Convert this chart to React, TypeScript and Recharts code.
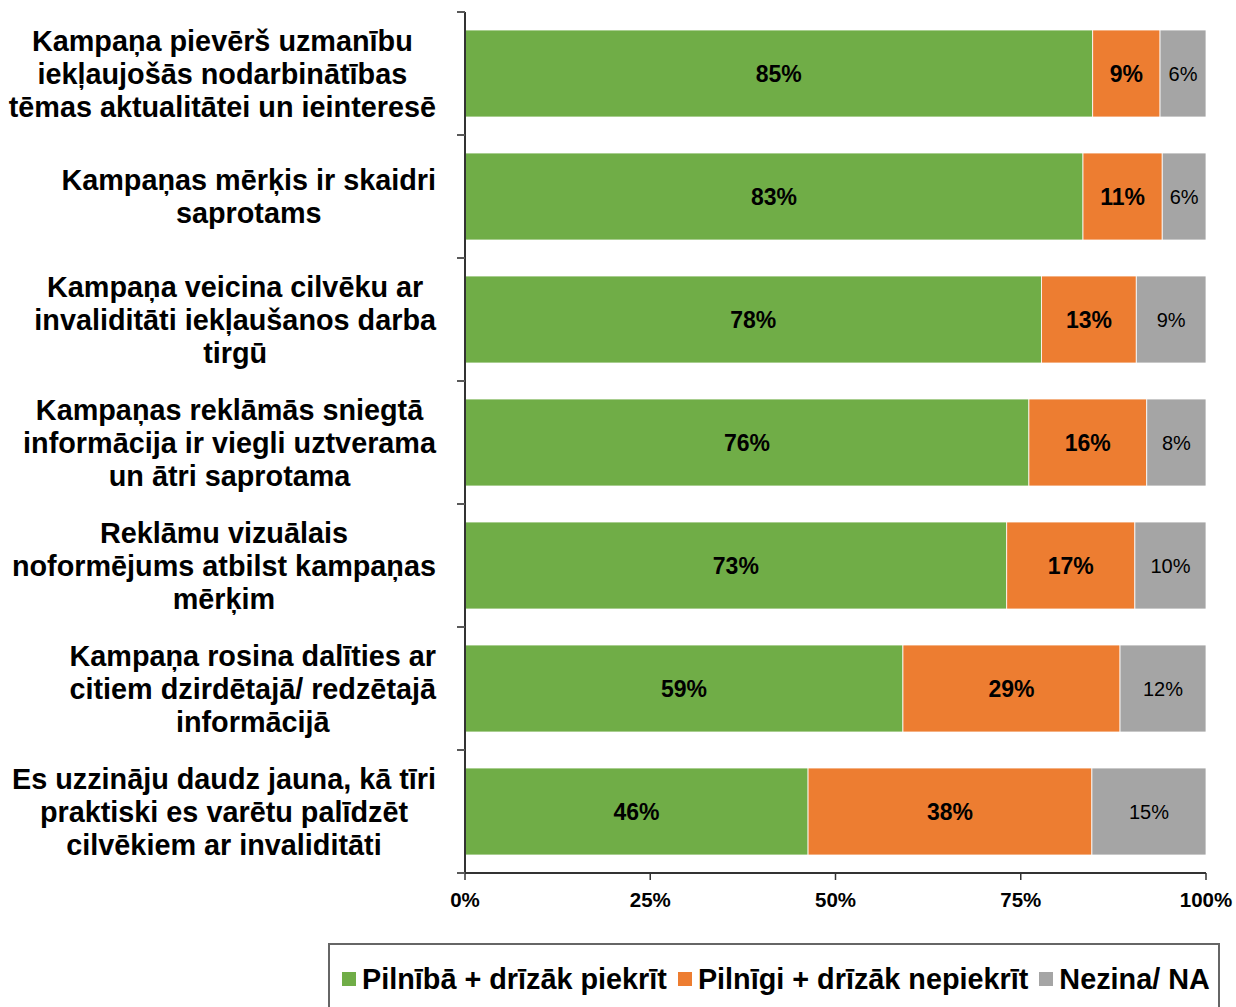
import React from "react";
import { BarChart, Bar, XAxis, YAxis, LabelList } from "recharts";

const CATEGORIES = [
  "Kampaņa pievērš uzmanību\niekļaujošās nodarbinātības\ntēmas aktualitātei un ieinteresē",
  "Kampaņas mērķis ir skaidri\nsaprotams",
  "Kampaņa veicina cilvēku ar\ninvaliditāti iekļaušanos darba\ntirgū",
  "Kampaņas reklāmās sniegtā\ninformācija ir viegli uztverama\nun ātri saprotama",
  "Reklāmu vizuālais\nnoformējums atbilst kampaņas\nmērķim",
  "Kampaņa rosina dalīties ar\ncitiem dzirdētajā/ redzētajā\ninformācijā",
  "Es uzzināju daudz jauna, kā tīri\npraktiski es varētu palīdzēt\ncilvēkiem ar invaliditāti",
];

const AGREE = [84.7, 83.4, 77.8, 76.1, 73.1, 59.1, 46.3];
const DISAGREE = [9.1, 10.7, 12.8, 15.9, 17.3, 29.3, 38.3];
const DONT_KNOW = [6.2, 5.9, 9.4, 8.0, 9.6, 11.6, 15.4];

const SERIES = [
  { key: "agree", name: "Pilnībā + drīzāk piekrīt", color: "#70AD47", bold: true },
  { key: "disagree", name: "Pilnīgi + drīzāk nepiekrīt", color: "#ED7D31", bold: true },
  { key: "dontKnow", name: "Nezina/ NA", color: "#A5A5A5", bold: false },
];

const X_TICKS = [0, 25, 50, 75, 100];

const data = CATEGORIES.map((name, i) => ({
  name,
  agree: AGREE[i],
  disagree: DISAGREE[i],
  dontKnow: DONT_KNOW[i],
}));

const FONT = '"Liberation Sans", Arial, sans-serif';
const CHART_W = 1236;
const CHART_H = 933;
const MARGIN = { top: 12, right: 30, bottom: 0, left: 0 };
const Y_AXIS_W = 465;
const X_AXIS_H = 60;
const BAND = (CHART_H - MARGIN.top - MARGIN.bottom - X_AXIS_H) / CATEGORIES.length;
const CAT_FONT = 28.8;
const LABEL_RIGHT = 436;

let ctx: CanvasRenderingContext2D | null = null;
function textWidth(s: string) {
  if (!ctx) {
    ctx = document.createElement("canvas").getContext("2d");
    if (ctx) ctx.font = `bold ${CAT_FONT}px "Liberation Sans", Arial, sans-serif`;
  }
  return ctx ? ctx.measureText(s).width : s.length * 16;
}

// eslint-disable-next-line @typescript-eslint/no-explicit-any
function CategoryTick({ y, payload, index }: any) {
  const lines: string[] = String(payload.value).split("\n");
  const w = Math.max(...lines.map(textWidth));
  const cx = LABEL_RIGHT - w / 2;
  const axisX = MARGIN.left + Y_AXIS_W;
  const last = index === CATEGORIES.length - 1;
  return (
    <g>
      <line x1={axisX - 8} x2={axisX} y1={y - BAND / 2} y2={y - BAND / 2} stroke="#595959" strokeWidth={2} />
      {last && (
        <line x1={axisX - 8} x2={axisX} y1={y + BAND / 2} y2={y + BAND / 2} stroke="#595959" strokeWidth={2} />
      )}
      <text textAnchor="middle" fontSize={CAT_FONT} fontWeight="bold" fill="#000">
        {lines.map((l, i) => (
          <tspan key={i} x={cx} y={y + (i - (lines.length - 1) / 2) * 33} dy="0.35em">
            {l}
          </tspan>
        ))}
      </text>
    </g>
  );
}

export default function App() {
  return (
    <div style={{ position: "absolute", left: 0, top: 0, width: 1236, height: 1007, background: "#fff", fontFamily: FONT }}>
      <BarChart
        width={CHART_W}
        height={CHART_H}
        data={data}
        layout="vertical"
        margin={MARGIN}
        barSize={87}
        style={{ fontFamily: FONT }}
      >
        <XAxis
          type="number"
          domain={[0, 100]}
          ticks={X_TICKS}
          height={X_AXIS_H}
          tickFormatter={(v) => `${v}%`}
          tick={{ fontSize: 20.5, fontWeight: "bold", fill: "#000" }}
          axisLine={{ stroke: "#333", strokeWidth: 2 }}
          tickLine={{ stroke: "#333", strokeWidth: 1.5 }}
          tickSize={7}
          tickMargin={12}
        />
        <XAxis
          xAxisId="top"
          type="number"
          orientation="top"
          domain={[0, 100]}
          height={0}
          tick={false}
          tickLine={false}
          axisLine={{ stroke: "#8c8c8c", strokeWidth: 2 }}
        />
        <YAxis
          type="category"
          dataKey="name"
          width={Y_AXIS_W}
          tick={CategoryTick}
          tickLine={false}
          axisLine={{ stroke: "#333", strokeWidth: 2 }}
          interval={0}
        />
        <YAxis
          yAxisId="right"
          type="category"
          dataKey="name"
          orientation="right"
          width={0}
          tick={false}
          tickLine={false}
          axisLine={{ stroke: "#8c8c8c", strokeWidth: 2.5 }}
        />
        {SERIES.map((s) => (
          <Bar
            key={s.key}
            dataKey={s.key}
            name={s.name}
            stackId="a"
            fill={s.color}
            stroke="#ffffff"
            strokeWidth={0.8}
            isAnimationActive={false}
          >
            <LabelList
              dataKey={s.key}
              position="center"
              formatter={(v: number) => `${Math.round(v)}%`}
              fill="#000"
              fontSize={s.bold ? 23 : 20}
              fontWeight={s.bold ? "bold" : "normal"}
            />
          </Bar>
        ))}
      </BarChart>
      <div
        style={{
          position: "absolute",
          left: 328,
          top: 943,
          width: 892,
          height: 64,
          boxSizing: "border-box",
          border: "2px solid #666",
          borderBottom: "none",
          display: "flex",
          alignItems: "center",
          paddingLeft: 12,
          paddingTop: 6,
          fontSize: 28.8,
          fontWeight: "bold",
          color: "#000",
          whiteSpace: "nowrap",
        }}
      >
        {SERIES.map((s) => (
          <div key={s.key} style={{ display: "flex", alignItems: "center", marginRight: 11 }}>
            <span style={{ display: "inline-block", width: 14, height: 14, background: s.color, marginRight: 6 }} />
            <span>{s.name}</span>
          </div>
        ))}
      </div>
    </div>
  );
}
